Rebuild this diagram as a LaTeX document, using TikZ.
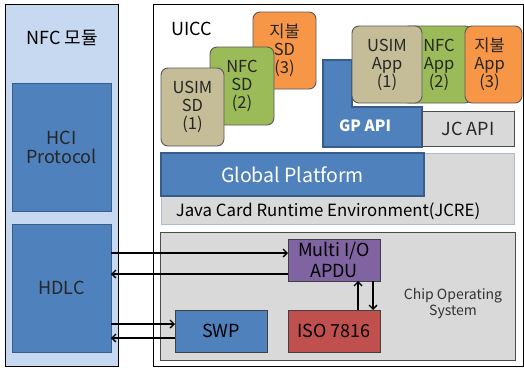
\documentclass[tikz,border=0pt]{standalone}
\usepackage{fontspec}
\setmainfont{Noto Sans CJK KR}
\usetikzlibrary{arrows.meta}
\definecolor{panelblue}{HTML}{C6D9F1}
\definecolor{boxblue}{HTML}{4F81BD}
\definecolor{boxblueedge}{HTML}{385D8A}
\definecolor{lgray}{HTML}{D9D9D9}
\definecolor{tan}{HTML}{C4BD97}
\definecolor{lgreen}{HTML}{9BBB59}
\definecolor{lorange}{HTML}{F79646}
\definecolor{lpurple}{HTML}{8064A2}
\definecolor{lred}{HTML}{C0504D}
\definecolor{dtext}{HTML}{262626}
\tikzset{
  base/.style={inner sep=0pt, outer sep=0pt, align=center, text=dtext},
  bluebox/.style={base, draw=boxblueedge, fill=boxblue, line width=0.8pt},
  sdbox/.style={base, draw=black!65, line width=0.9pt, rounded corners=7pt},
  graybox/.style={base, draw=black!70, fill=lgray, line width=0.8pt},
  arr/.style={line width=1.3pt, -{Straight Barb[length=4pt,width=8pt]}},
  f15/.style={font=\fontsize{18}{19}\selectfont},
  f14/.style={font=\fontsize{16.5}{18}\selectfont},
  f12/.style={font=\fontsize{14}{16}\selectfont},
}
\begin{document}
\begin{tikzpicture}[x=1pt,y=-1pt]
\useasboundingbox (0,0) rectangle (524,367);
% NFC module panel
\node[base, draw=black, fill=panelblue, line width=0.8pt, minimum width=113, minimum height=362] (nfc) at (61.5,185) {};
\node[base, f15, text=black] (nfctitle) at (62,38) {NFC 모듈};
\node[bluebox, f15, minimum width=99, minimum height=128] (hci) at (61.5,147) {HCI\\Protocol};
\node[bluebox, f15, minimum width=99, minimum height=128] (hdlc) at (61.5,288) {HDLC};
% UICC
\node[base, draw=black, fill=white, line width=0.8pt, minimum width=370, minimum height=362] (uicc) at (338,185) {};
\node[base, f15, text=black] (uicclabel) at (192,29) {UICC};
% SDs
\node[sdbox, f14, fill=lorange, minimum width=63, minimum height=77] (paysd) at (284.5,50.5) {지불\\SD\\(3)};
\node[sdbox, f14, fill=lgreen, minimum width=64, minimum height=78] (nfcsd) at (242,86) {NFC\\SD\\(2)};
\node[sdbox, f14, fill=tan, minimum width=63, minimum height=78] (usimsd) at (192.5,107) {USIM\\SD\\(1)};
% GP API L-shape
\filldraw[fill=boxblue, draw=boxblueedge, line width=2pt] (323,60) -- (352,60) -- (352,107) -- (422,107) -- (422,147) -- (323,147) -- cycle;
\node[base, font=\fontsize{15.5}{17}\selectfont\bfseries, text=white] (gpapi) at (365,126) {GP API};
\node[graybox, f15, minimum width=92, minimum height=35] (jcapi) at (468,128.5) {JC API};
% Apps
\node[sdbox, f14, fill=lgreen, minimum width=70, minimum height=77] (nfcapp) at (437,64.5) {\hspace*{4pt}NFC\\\hspace*{4pt}App\\\hspace*{4pt}(2)};
\node[sdbox, f14, fill=lorange, minimum width=57, minimum height=77] (payapp) at (493.5,64.5) {\hspace*{-8pt}지불\\\hspace*{-8pt}App\\\hspace*{-8pt}(3)};
\node[sdbox, f14, fill=tan, minimum width=70, minimum height=77] (usimapp) at (387,64.5) {USIM\\App\\(1)};
% JCRE and Global Platform
\node[base, draw=black!35!boxblue!40, fill=lgray, line width=0.8pt, minimum width=353, minimum height=71] (jcre) at (337.5,188.5) {};
\node[bluebox, line width=1.2pt, text=white, font=\fontsize{19.5}{21}\selectfont, minimum width=263, minimum height=43] (gp) at (292.5,174.5) {Global Platform};
\node[base, font=\fontsize{16.8}{18}\selectfont, text=black] (jcretext) at (328,211) {Java Card Runtime Environment(JCRE)};
% Chip OS
\node[graybox, minimum width=355, minimum height=128] (chipos) at (337.5,296) {};
\node[base, f12, text=black!80] (chiptext) at (453,304) {Chip Operating\\System};
\node[base, draw=black!75, fill=lpurple, line width=0.8pt, font=\fontsize{18}{21}\selectfont, text=black, minimum width=92, minimum height=42] (mio) at (334,260) {Multi I/O\\APDU};
\node[base, draw=black!75, fill=lred, line width=0.8pt, f15, text=black, minimum width=92, minimum height=42] (iso) at (334,331) {ISO 7816};
\node[base, draw=black!75, fill=boxblue, line width=0.8pt, f15, text=black, minimum width=92, minimum height=42] (swp) at (221,331) {SWP};
% connectors
\coordinate (y1) at (0,253);
\coordinate (y2) at (0,274);
\coordinate (y3) at (0,324);
\coordinate (y4) at (0,338);
\coordinate (x1) at (358,0);
\coordinate (x2) at (373,0);
\draw[arr] (hdlc.east |- y1) -- (mio.west |- y1);
\draw[arr] (mio.west |- y2) -- (hdlc.east |- y2);
\draw[arr] (hdlc.east |- y3) -- (swp.west |- y3);
\draw[arr] (swp.west |- y4) -- (hdlc.east |- y4);
\draw[arr] (iso.north -| x1) -- (mio.south -| x1);
\draw[arr] (mio.south -| x2) -- (iso.north -| x2);
\end{tikzpicture}
\end{document}
